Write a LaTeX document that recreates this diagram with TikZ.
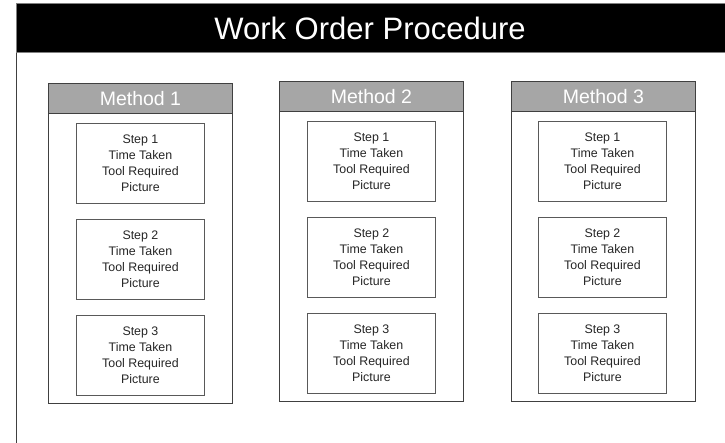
\documentclass[tikz,border=0pt]{standalone}
\usepackage{fontspec}
\setmainfont{Liberation Sans}
\definecolor{hdrgray}{HTML}{A6A6A6}
\definecolor{framegray}{HTML}{404040}
\definecolor{boxgray}{HTML}{595959}
\definecolor{txtgray}{HTML}{262626}
\begin{document}
\begin{tikzpicture}[x=1pt,y=-1pt,
  titlebar/.style={fill=black,draw=gray,line width=0.8pt,minimum width=720pt,minimum height=49pt,anchor=north west,inner sep=0pt},
  titletext/.style={text=white,font=\fontsize{31}{33}\selectfont,inner sep=0pt},
  methodbox/.style={draw=framegray,line width=0.9pt,minimum width=184pt,minimum height=320pt,anchor=north west,inner sep=0pt},
  methodhead/.style={draw=framegray,fill=hdrgray,line width=0.9pt,minimum width=184pt,minimum height=30pt,anchor=north west,inner sep=0pt,text=white,font=\fontsize{19.5}{21}\selectfont},
  stepbox/.style={draw=boxgray,line width=0.9pt,minimum width=128pt,minimum height=80pt,anchor=north west,inner sep=0pt,align=center,text=txtgray,font=\fontsize{12.4}{16}\selectfont},
  frameline/.style={draw=framegray,line width=0.9pt}
]
\useasboundingbox (0,0) rectangle (725,442);
\clip (0,0) rectangle (725,442);
\fill[white] (0,0) rectangle (725,442);
\node[titlebar] (bar) at (16,3) {};
\node[titletext] (title) at (370,28) {Work Order Procedure};
\coordinate (fb) at (16,450);
\draw[frameline] (bar.south west) -- (fb);
% Method 1
\node[methodbox] (m1) at (48,83) {};
\node[methodhead] (h1) at (48,83) {Method 1};
\node[stepbox] (m1s1) at (76,123) {Step 1\\Time Taken\\Tool Required\\Picture};
\node[stepbox] (m1s2) at (76,219) {Step 2\\Time Taken\\Tool Required\\Picture};
\node[stepbox] (m1s3) at (76,315) {Step 3\\Time Taken\\Tool Required\\Picture};
% Method 2
\node[methodbox] (m2) at (279,81) {};
\node[methodhead] (h2) at (279,81) {Method 2};
\node[stepbox] (m2s1) at (307,121) {Step 1\\Time Taken\\Tool Required\\Picture};
\node[stepbox] (m2s2) at (307,217) {Step 2\\Time Taken\\Tool Required\\Picture};
\node[stepbox] (m2s3) at (307,313) {Step 3\\Time Taken\\Tool Required\\Picture};
% Method 3
\node[methodbox] (m3) at (511,81) {};
\node[methodhead] (h3) at (511,81) {Method 3};
\node[stepbox] (m3s1) at (538,121) {Step 1\\Time Taken\\Tool Required\\Picture};
\node[stepbox] (m3s2) at (538,217) {Step 2\\Time Taken\\Tool Required\\Picture};
\node[stepbox] (m3s3) at (538,313) {Step 3\\Time Taken\\Tool Required\\Picture};
\end{tikzpicture}
\end{document}
